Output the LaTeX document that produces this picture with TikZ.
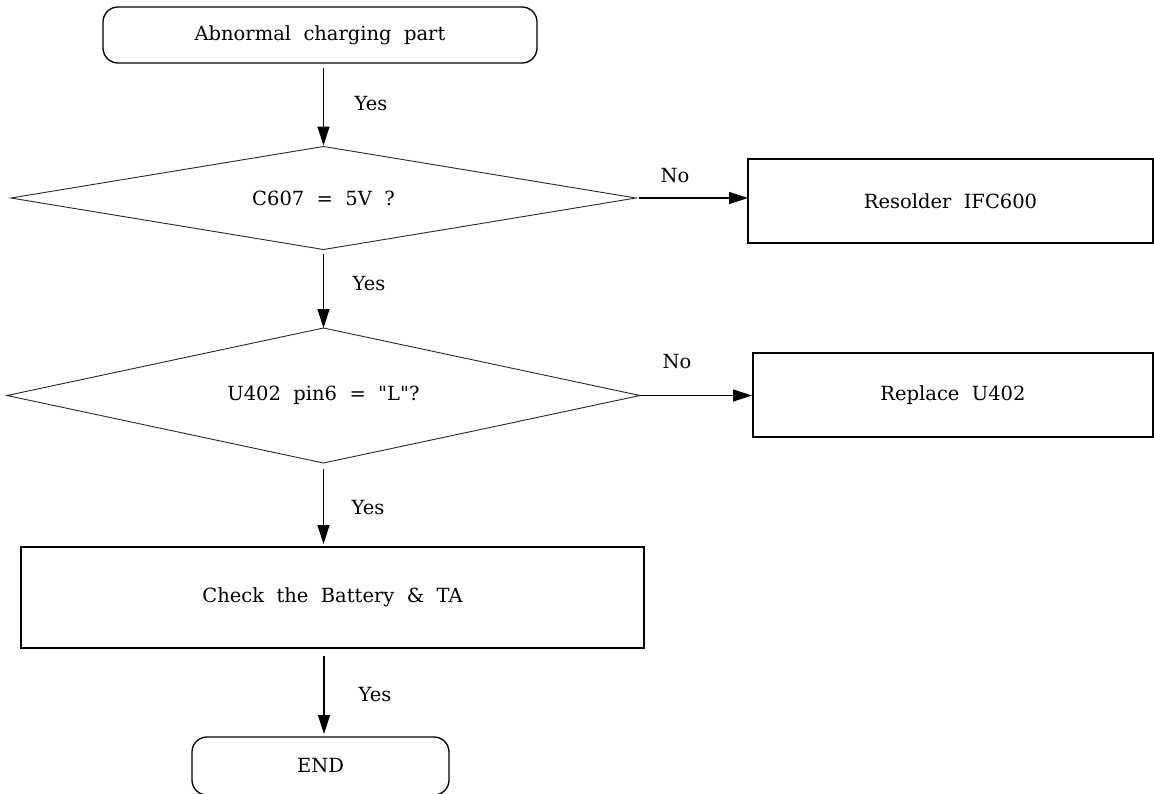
\documentclass[tikz,border=0pt]{standalone}
\usepackage{fontspec}
\setmainfont{DejaVu Serif}[WordSpace=2]
\newfontfamily\plainq{DejaVu Serif}[WordSpace=2]
\usetikzlibrary{shapes.geometric,arrows.meta}
\begin{document}
\begin{tikzpicture}[x=1pt,y=-1pt,
  every node/.style={font=\fontsize{19.5}{22}\selectfont, inner sep=0, outer sep=0},
  term/.style={draw, line width=1.3pt, rounded corners=15pt, minimum width=#1, minimum height=56pt},
  procbox/.style={draw, line width=1.3pt},
  decision/.style={draw=black!85, line width=0.9pt, diamond, aspect=4},
  lbl/.style={},
  flow/.style={line width=1.2pt, -{Triangle[length=19pt,width=12pt]}}]
\useasboundingbox (0,0) rectangle (1154,793);
% nodes
\node[term=434pt] (start) at (320,35) {Abnormal charging part};
\node[decision, minimum width=625pt, minimum height=103pt] (d1) at (323.5,198) {C607 = 5V ?};
\node[procbox, minimum width=405pt, minimum height=84pt] (res) at (950.5,201) {Resolder IFC600};
\node[decision, minimum width=633pt, minimum height=135pt] (d2) at (323.5,395.5) {\plainq U402 pin6 = "L"?};
\node[procbox, minimum width=400pt, minimum height=84pt] (rep) at (953,395) {Replace U402};
\node[procbox, minimum width=623pt, minimum height=101pt] (chk) at (332.5,597.5) {Check the Battery \& TA};
\node[term=257pt, minimum height=58pt] (endn) at (320.5,766) {END};
% labels
\node[lbl] (y1) at (371,104) {Yes};
\node[lbl] (y2) at (369,284) {Yes};
\node[lbl] (y3) at (368,508) {Yes};
\node[lbl] (y4) at (375,695) {Yes};
\node[lbl] (n1) at (675,176) {No};
\node[lbl] (n2) at (677,362) {No};
% connectors
\draw[flow] ([yshift=-5pt]start.south -| d1.north) -- ([yshift=1pt]d1.north);
\draw[flow] ([yshift=-4pt]d1.south) -- (d2.north);
\draw[flow] ([yshift=-6pt]d2.south) -- ([yshift=3pt]chk.north -| d2.south);
\draw[flow] ([xshift=3.5pt,yshift=-8pt]endn.north |- chk.south) -- ([xshift=3.5pt,yshift=3pt]endn.north);
\draw[flow] ([xshift=3pt]d1.east) -- (d1.east -| res.west);
\draw[flow] (d2.east) -- ([xshift=-1pt]d2.east -| rep.west);
\end{tikzpicture}
\end{document}
